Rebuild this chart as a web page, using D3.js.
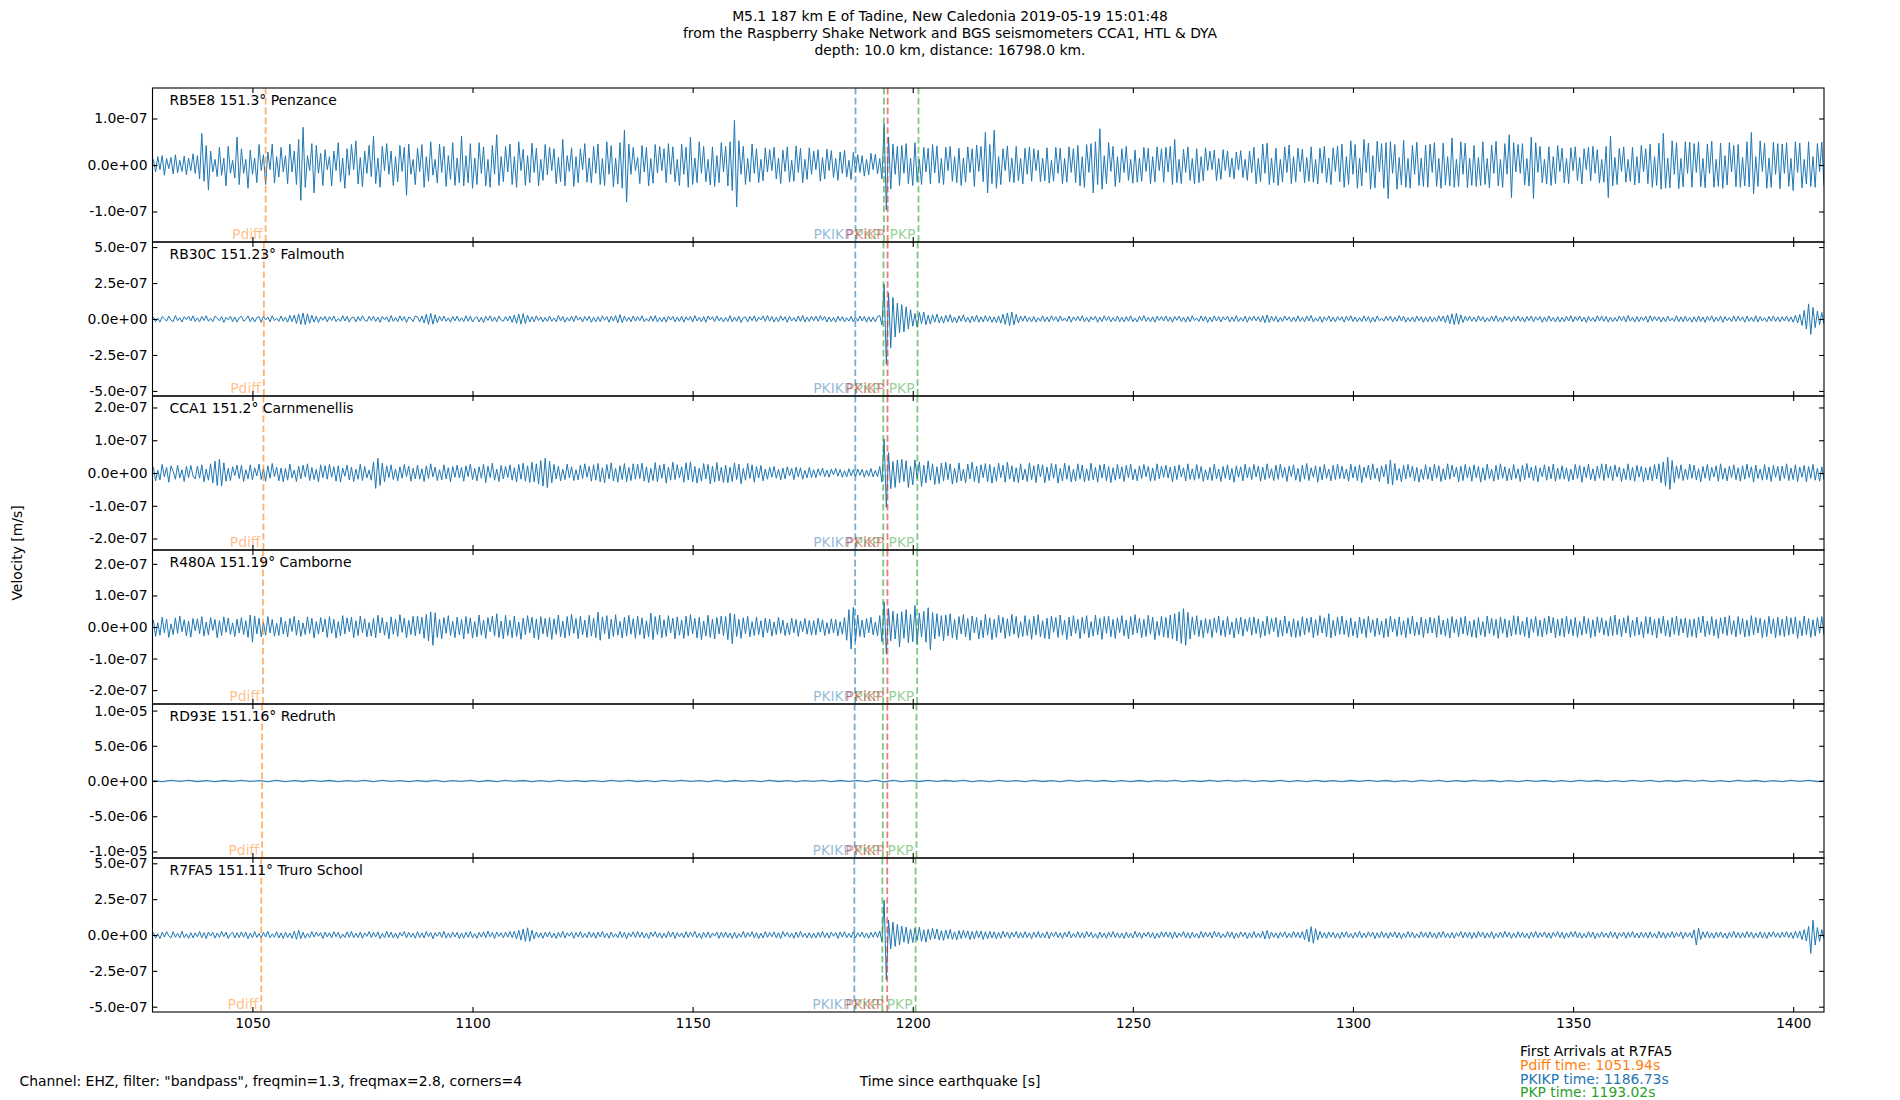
<!DOCTYPE html>
<html><head><meta charset="utf-8">
<script src="https://cdn.jsdelivr.net/npm/d3@7"></script>
<style>
body{margin:0;background:#fff}
svg{display:block}
text{font-family:"DejaVu Sans",sans-serif}
</style>
</head><body>
<svg id="chart" width="1900" height="1100"></svg>
<script>
// ---------------- DATA ----------------
const titleLines = [
  "M5.1 187 km E of Tadine, New Caledonia 2019-05-19 15:01:48",
  "from the Raspberry Shake Network and BGS seismometers CCA1, HTL & DYA",
  "depth: 10.0 km, distance: 16798.0 km."
];
const stationLabels = [
  "RB5E8 151.3° Penzance",
  "RB30C 151.23° Falmouth",
  "CCA1 151.2° Carnmenellis",
  "R480A 151.19° Camborne",
  "RD93E 151.16° Redruth",
  "R7FA5 151.11° Truro School"
];
const xDomain = [1027.3, 1407.0];
const xTicks = [1050, 1100, 1150, 1200, 1250, 1300, 1350, 1400];
const yLimits = [1.656e-7, 5.35e-7, 2.35e-7, 2.44e-7, 1.093e-5, 5.37e-7];
const yTicks = [
  [-1e-7, 0, 1e-7],
  [-5e-7, -2.5e-7, 0, 2.5e-7, 5e-7],
  [-2e-7, -1e-7, 0, 1e-7, 2e-7],
  [-2e-7, -1e-7, 0, 1e-7, 2e-7],
  [-1e-5, -5e-6, 0, 5e-6, 1e-5],
  [-5e-7, -2.5e-7, 0, 2.5e-7, 5e-7]
];
// trace start time (s) and step between read extrema (s); values in nm/s
const traceStart = 1027.5;
const traceSteps = [0.5, 0.5, 0.5, 0.5, 2.0, 0.5];

const tracePenzance = [
12,-15,18,-10,20,-22,14,-8,16,-19,22,-17,10,-14,19,-21,15,-12,24,-18,
20,-30,68,-35,42,-54,30,-15,12,-25,38,-22,15,-45,40,-18,10,-28,60,-42,
35,-18,12,-50,32,-20,15,-38,44,-12,22,-42,28,-10,45,-39,18,-26,38,-15,
20,-40,45,-15,30,-42,55,-76,81,-48,20,-12,46,-60,42,-18,25,-44,33,-10,
18,-45,30,-12,48,-36,15,-50,35,-22,44,-10,52,-41,16,-47,30,-18,42,-25,
62,-40,15,-48,40,-12,46,-20,30,-44,18,-36,42,-14,38,-65,45,-20,12,-42,
36,-14,44,-48,18,-35,50,-22,12,-39,45,-16,40,-46,20,-31,48,-44,15,-38,
62,-45,20,-38,46,-50,15,-42,48,-18,39,-45,12,-48,42,-20,65,-44,18,-36,
40,-15,45,-42,18,-48,50,-12,34,-44,20,-38,47,-16,36,-45,12,-33,44,-21,
38,-12,35,-40,16,-36,55,-45,20,-14,37,-46,18,-38,35,-10,46,-37,15,-39,
40,-18,45,-42,14,-44,50,-20,42,-47,15,-41,48,-50,75,-80,45,-20,38,-12,
16,-40,42,-15,38,-45,14,-39,44,-17,40,-12,35,-38,46,-20,39,-36,12,-44,
45,-20,38,-48,60,-42,15,-38,50,-18,40,-36,12,-43,39,-46,20,-38,48,-15,
40,-45,50,-55,96,-90,52,-20,40,-42,14,-36,45,-18,35,-38,12,-34,37,-15,
33,-12,38,-30,15,-40,32,-14,39,-37,10,-35,41,-16,36,-38,12,-31,37,-20,
30,-10,33,-35,16,-30,34,-12,31,-27,14,-33,28,-18,32,-26,10,-31,27,-15,
22,-16,20,-24,12,-21,25,-10,23,-19,14,-30,88,-97,60,-52,45,-20,40,-44,
42,-18,46,-40,15,-44,48,-36,12,-42,38,-15,36,-40,44,-17,41,-39,14,-42,
38,-12,40,-35,18,-38,36,-44,15,-37,39,-16,35,-46,43,-14,40,-36,70,-60,
44,-40,75,-50,18,-42,35,-12,41,-36,15,-38,40,-34,14,-41,36,-20,39,-35,
35,-12,32,-36,15,-34,37,-39,10,-35,38,-18,36,-40,14,-37,39,-16,35,-38,
42,-45,18,-48,44,-16,46,-60,50,-42,78,-52,20,-40,48,-14,40,-46,18,-38,
35,-16,40,-33,12,-39,32,-37,15,-35,38,-14,36,-40,18,-36,39,-12,35,-37,
38,-15,40,-42,55,-38,12,-40,34,-16,39,-33,14,-41,35,-38,18,-34,37,-12,
30,-10,32,-34,14,-31,33,-12,30,-26,15,-30,28,-11,31,-27,12,-33,30,-16,
38,-40,14,-36,45,-18,47,-42,15,-38,36,-44,12,-37,39,-16,43,-40,18,-36,
36,-14,34,-38,16,-35,39,-37,12,-41,36,-18,40,-38,15,-42,37,-14,41,-36,
45,-48,18,-42,52,-20,44,-50,14,-45,55,-16,47,-52,20,-49,51,-15,46,-50,
48,-72,50,-18,44,-52,16,-43,53,-48,14,-50,42,-20,49,-44,15,-46,43,-48,
45,-16,48,-46,14,-50,47,-43,18,-45,58,-48,12,-46,50,-20,47,-49,15,-44,
42,-46,16,-44,50,-42,14,-49,43,-18,51,-45,12,-48,46,-20,65,-70,48,-15,
44,-18,46,-43,14,-45,60,-72,48,-16,40,-38,12,-41,39,-44,18,-40,42,-14,
36,-38,14,-40,37,-12,39,-33,16,-41,35,-10,38,-34,40,-18,33,-39,12,-37,
40,-70,62,-45,16,-42,36,-14,39,-37,12,-35,38,-43,18,-39,42,-15,35,-40,
45,-48,18,-44,47,-52,68,-50,15,-49,52,-20,48,-51,14,-47,50,-18,49,-48,
46,-16,50,-47,14,-49,45,-18,51,-48,12,-46,47,-50,20,-43,48,-15,42,-47,
44,-48,16,-45,50,-47,70,-62,18,-46,52,-14,47,-50,15,-48,49,-20,46,-51,
45,-18,48,-46,14,-55,50,-16,47,-49,12,-41,50,-46,18,-48,46,-14,49,-45
];

const traceFalmouth = [
14,-19,6,-22,17,3,-15,20,-8,-18,24,-12,9,-21,16,-5,19,-14,22,-17,
8,-20,18,-11,23,-16,5,-19,21,7,-13,17,-24,12,-6,19,-18,14,-22,10,
19,-15,-4,22,-18,13,-21,9,16,-23,20,-7,14,-19,23,-12,6,-17,21,-15,
12,-22,25,-18,28,-32,35,-38,42,-40,36,-30,26,-22,19,-24,15,-9,18,-20,
17,-11,21,-19,4,-16,23,-14,18,-22,9,14,-20,16,-13,22,-8,-17,19,-12,
20,-17,13,-23,18,-6,15,-21,24,-16,10,-19,22,-12,17,-24,14,5,-18,21,
15,-20,22,-28,34,-38,40,-36,30,-25,19,-14,21,-17,8,-22,18,-13,20,-16,
9,-18,23,-15,19,-21,6,16,-20,13,-24,18,-10,22,-17,14,-19,21,-7,-15,
18,-14,20,-24,28,-31,34,-36,38,-32,26,-21,16,-19,22,-12,15,-20,11,-17,
21,-16,7,-19,24,-13,18,-22,10,-15,20,-18,23,-9,14,-21,17,-11,19,-23,
13,-20,16,-18,22,-9,17,-23,19,-14,24,-27,30,-25,20,-16,12,-19,21,-15,
16,-12,22,-19,5,-17,20,-15,23,-21,11,-18,14,-22,19,-8,17,-20,13,-16,
20,-22,15,-9,18,-21,24,-14,12,-19,17,-23,21,-6,16,-18,22,-13,10,-20,
11,-17,23,-20,14,-16,19,-24,8,15,-21,18,-12,22,-19,13,-7,20,-16,24,
-15,18,-21,12,-19,22,-10,16,-23,20,-14,9,-18,21,-16,24,-20,13,-17,19,
-12,20,-16,23,-9,17,-21,14,-18,11,-22,19,-13,16,-20,8,-15,18,-19,12,
-16,21,-14,18,-22,15,-19,13,-20,17,24,-42,241,-315,180,-200,150,-125,110,-95,
100,-90,85,-70,65,-50,38,-58,45,-32,48,-40,26,-36,30,-22,34,-27,18,-29,
26,-19,30,-24,14,-27,22,-16,29,-21,12,-25,20,-18,27,-23,15,-20,24,-17,
19,-23,15,-25,21,-29,33,-37,42,-46,48,-40,32,-27,20,-15,22,-18,13,-20,
17,-21,9,-16,22,-18,14,-20,23,-11,16,-19,21,-14,7,-17,20,-22,15,-12,
18,-14,23,-19,12,-21,16,-8,19,-23,14,-17,22,-12,18,-20,9,-16,21,-19,
13,-20,17,-15,22,-18,6,-21,19,-13,24,-16,11,-19,15,-22,20,-10,17,-14,
21,-16,14,-23,18,-9,20,-17,13,-22,16,-19,23,-11,8,-18,21,-15,19,-24,
12,-18,22,-14,17,-20,15,-7,19,-21,13,-16,24,-19,10,-15,20,-23,16,-12,
19,-13,16,-21,23,-26,28,-24,20,-15,18,-22,12,-17,21,-9,15,-20,14,-18,
22,-17,11,-19,20,-14,24,-21,8,-16,18,-23,15,-12,21,-18,13,-20,17,-10,
15,-22,19,-12,23,-17,14,-20,10,-18,22,-15,17,-24,12,-19,21,-13,6,-16,
18,-11,21,-20,13,-16,24,-14,19,-22,9,-17,15,-21,20,-12,16,-23,14,-19,
17,-20,12,-18,23,-15,20,-25,28,-33,36,-39,40,-37,29,-24,18,-14,21,-16,
14,-19,22,-13,16,-21,8,-17,20,-15,23,-18,12,-22,19,-10,15,-20,17,-14,
20,-16,13,-22,18,-12,21,-19,15,-9,17,-23,14,-18,22,-15,11,-20,16,-21,
11,-18,19,-14,23,-20,16,-12,21,-17,13,-24,18,-15,9,-19,22,-13,20,-16,
17,-22,14,-19,10,-16,21,-13,18,-20,24,-15,12,-21,17,-18,15,-11,19,-23,
22,-15,18,-12,16,-21,13,-19,20,-14,7,-17,23,-20,15,-18,19,-16,12,-22,
16,-20,21,-17,14,-23,18,-11,22,-19,13,-15,20,-24,17,-12,10,-18,21,-16,
19,-13,15,-22,20,-16,12,-18,23,-21,17,-14,9,-20,18,-15,22,-17,14,-19,
17,-14,20,-18,15,-22,26,-28,32,-45,60,-70,105,-107,80,-60,55,-40,45,-35
];

const traceCarnmenellis = [
18,-24,8,-21,26,-12,17,-28,22,5,-19,24,-15,10,-26,20,-14,23,-9,-18,
21,-16,25,-27,12,-22,28,-30,36,-38,42,-40,31,-25,14,-23,19,-8,24,-17,
23,-26,10,-18,25,-21,16,-9,27,-20,13,-25,22,-16,29,-11,18,-24,15,-27,
14,-22,27,-15,9,-26,21,-18,24,-12,28,-23,17,-20,11,-27,25,-14,22,-19,
26,-13,19,-25,22,-28,15,-10,24,-21,18,-26,12,-19,27,-23,20,-15,9,-22,
34,-47,45,-38,30,-27,22,-14,25,-20,12,-24,19,-16,26,-11,21,-25,14,-18,
24,-19,13,-26,22,-17,28,-12,18,-23,10,-21,25,-18,16,-27,20,-13,24,-15,
17,-25,22,-11,27,-20,14,-24,19,-16,26,-29,21,-14,30,-22,12,-26,23,-18,
20,-14,25,-22,16,-28,26,-19,30,-25,22,-29,33,-27,28,-34,38,-40,45,-45,
36,-30,26,-18,21,-24,12,-20,27,-15,19,-23,10,-21,24,-17,28,-13,20,-25,
25,-22,29,-27,16,-30,26,-18,31,-24,14,-28,22,-20,29,-26,17,-23,28,-19,
27,-17,30,-25,19,-29,14,-23,32,-27,24,-16,28,-31,18,-22,33,-20,25,-15,
19,-28,31,-21,34,-27,20,-31,15,-25,29,-18,26,-33,21,-27,32,-24,17,-29,
24,-30,18,-26,31,-20,27,-33,14,-22,29,-17,25,-28,20,-15,23,-24,12,-19,
17,-13,20,-16,11,-21,15,-18,19,-9,14,-20,18,-12,16,-19,8,-15,17,-14,
10,-14,13,-8,15,-11,9,-13,12,-6,14,-10,11,-13,7,-12,13,-9,10,-11,
12,-7,11,-13,9,-10,14,-12,8,-11,20,-28,104,-105,62,-48,35,-44,40,-30,
42,-26,38,-44,20,-36,40,-18,34,-41,24,-30,37,-22,28,-35,19,-32,30,-24,
33,-20,28,-34,15,-29,31,-24,12,-30,27,-18,33,-26,21,-31,25,-14,29,-27,
26,-31,18,-25,30,-14,24,-28,33,-19,22,-27,16,-30,28,-21,12,-26,31,-20,
22,-29,27,-12,25,-30,18,-23,29,-16,26,-31,14,-24,30,-19,23,-27,11,-25,
28,-19,24,-27,13,-23,30,-21,17,-28,25,-15,27,-24,20,-29,16,-22,26,-18,
19,-26,23,-14,27,-21,12,-24,22,-17,26,-11,20,-25,15,-23,28,-18,21,-13,
24,-15,18,-27,21,-20,25,-12,16,-24,28,-19,13,-22,26,-17,20,-25,10,-21,
17,-23,27,-18,12,-26,20,-16,25,-21,14,-28,22,-13,19,-24,27,-15,18,-20,
26,-12,21,-25,18,-20,28,-16,13,-23,24,-19,27,-14,17,-26,21,-11,25,-22,
14,-27,24,-19,29,-23,16,-13,22,-28,19,-21,26,-16,12,-24,23,-20,27,-17,
21,-18,12,-25,27,-15,20,-23,25,-29,18,-14,24,-21,28,-17,15,-26,22,-12,
26,-33,40,-36,29,-22,14,-27,23,-18,26,-13,21,-24,17,-28,12,-20,25,-19,
18,-24,27,-16,22,-26,13,-21,28,-19,24,-12,17,-27,21,-23,26,-15,19,-25,
25,-14,20,-28,16,-22,27,-18,12,-25,23,-20,28,-16,19,-24,14,-21,26,-17,
13,-26,24,-20,29,-15,18,-23,22,-27,16,-12,25,-22,20,-18,27,-25,15,-19,
22,-19,16,-25,12,-21,26,-17,23,-28,19,-14,27,-20,13,-24,21,-16,28,-23,
27,-15,21,-23,25,-12,18,-26,14,-20,28,-22,17,-25,23,-13,20,-27,16,-21,
19,-24,26,-18,28,-30,34,-40,48,-50,38,-29,22,-17,25,-23,12,-20,27,-16,
24,-21,13,-27,20,-16,26,-23,17,-12,22,-25,28,-19,15,-24,21,-14,25,-20,
16,-25,22,-19,27,-14,19,-28,24,-17,12,-22,26,-20,18,-26,23,-13,20,-24,
21,-17,28,-23,15,-20,25,-26,18,-13,23,-27,20,-16,26,-22,14,-25,19,-21
];

const traceCamborne = [
22,-30,14,-26,31,-18,25,-33,10,-24,29,-20,35,-15,23,-28,19,-32,27,-12,
26,-21,33,-29,16,-25,30,-11,24,-34,20,-27,32,-17,28,-23,13,-30,25,-19,
30,-24,20,-33,38,-48,35,-22,28,-31,15,-26,33,-19,24,-29,12,-27,31,-22,
18,-31,27,-14,34,-26,22,-30,13,-24,32,-20,28,-35,17,-23,30,-16,25,-33,
33,-20,24,-35,17,-28,36,-22,29,-15,31,-34,20,-27,35,-18,26,-31,14,-29,
27,-34,37,-19,30,-26,16,-38,32,-23,25,-30,39,-17,28,-35,21,-24,34,-28,
35,-22,31,-36,40,-44,48,-58,45,-33,24,-37,30,-20,36,-27,18,-34,31,-25,
24,-38,33,-21,29,-35,17,-31,38,-26,22,-36,30,-15,34,-29,42,-33,19,-37,
37,-27,21,-34,35,-30,16,-39,28,-24,36,-18,31,-35,25,-40,33,-22,27,-31,
30,-39,26,-23,38,-31,19,-35,33,-28,40,-20,27,-37,34,-25,22,-33,37,-29,
28,-34,47,-42,32,-21,36,-38,25,-30,39,-26,18,-35,31,-29,37,-23,26,-36,
35,-25,29,-37,20,-31,44,-40,33,-24,38,-34,23,-30,36,-19,28,-38,32,-26,
22,-36,34,-28,39,-21,27,-35,31,-40,19,-29,37,-33,25,-38,30,-22,35,-27,
33,-40,44,-53,41,-30,24,-36,29,-22,34,-31,17,-27,32,-24,20,-33,28,-19,
25,-29,16,-24,31,-20,22,-27,13,-25,28,-18,24,-30,19,-15,27,-23,21,-26,
20,-25,28,-16,23,-27,14,-22,26,-19,24,-28,17,-23,30,-42,55,-70,62,-45,
38,-30,22,-33,27,-19,31,-25,16,-28,36,-46,80,-85,58,-44,50,-38,42,-63,
48,-36,55,-50,40,-47,68,-55,44,-32,50,-48,61,-72,46,-38,42,-30,36,-44,
38,-28,42,-35,24,-40,33,-22,39,-31,27,-42,35,-19,30,-38,22,-34,40,-26,
29,-40,24,-33,37,-18,31,-36,26,-29,40,-23,33,-35,17,-30,36,-27,24,-39,
34,-25,39,-31,20,-36,28,-38,35,-17,30,-33,38,-26,22,-40,31,-29,36,-21,
25,-37,31,-22,36,-34,17,-29,38,-25,27,-39,33,-20,35,-31,24,-36,29,-18,
36,-28,22,-38,33,-25,39,-19,28,-34,24,-30,37,-23,31,-40,18,-27,34,-32,
30,-35,38,-37,42,-44,48,-52,58,-58,46,-38,32,-25,36,-30,22,-34,27,-20,
24,-33,29,-18,35,-27,21,-31,33,-24,16,-35,28,-22,31,-29,25,-14,30,-26,
32,-21,26,-34,19,-28,34,-23,27,-15,30,-32,22,-29,35,-20,18,-31,26,-33,
20,-30,33,-25,28,-17,31,-34,24,-27,36,-19,29,-31,42,-35,21,-28,32,-23,
35,-24,22,-32,29,-28,17,-35,31,-21,26,-33,34,-18,23,-30,28,-25,19,-34,
27,-31,34,-16,25,-30,32,-26,20,-34,29,-22,35,-28,16,-25,31,-33,24,-20,
31,-19,28,-33,36,-24,22,-29,27,-35,33,-18,25,-31,30,-22,34,-27,19,-32,
23,-34,30,-26,17,-31,35,-21,28,-27,24,-36,32,-20,26,-33,21,-29,36,-24,
34,-25,19,-30,31,-35,26,-17,33,-29,22,-32,28,-24,35,-19,30,-34,25,-28,
28,-32,35,-22,24,-28,30,-33,18,-26,34,-21,27,-35,23,-30,32,-18,29,-25,
20,-29,33,-27,38,-24,25,-31,29,-19,36,-33,22,-28,31,-25,17,-34,33,-22,
32,-26,24,-35,28,-20,34,-29,21,-32,30,-23,35,-27,26,-19,29,-33,24,-30,
26,-34,31,-18,35,-30,19,-25,33,-28,24,-36,29,-21,32,-27,36,-23,20,-31,
33,-23,27,-32,22,-29,36,-25,30,-19,28,-34,23,-30,34,-22,26,-35,31,-27,
25,-31,34,-26,29,-22,32,-36,20,-28,35,-24,27,-33,23,-29,30,-20,33,-26
];

const traceRedruth = [
60,-80,75,-55,90,-70,65,-85,70,-60,
85,-65,55,-90,80,-75,60,-70,95,-65,
70,-85,65,-60,75,-95,80,-55,65,-80,
55,-70,90,-80,60,-65,85,-75,70,-90,
80,-60,70,-85,55,-75,90,-65,60,-70,
65,-90,80,-55,75,-70,60,-85,95,-60,
75,-65,60,-80,85,-90,70,-60,55,-75,
90,-70,65,-75,60,-55,80,-95,70,-65,
60,-85,110,-130,90,-80,65,-70,85,-55,
70,-60,85,-75,65,-90,75,-65,60,-80,
80,-70,60,-85,75,-65,90,-55,70,-75,
55,-80,70,-90,65,-60,85,-75,60,-70,
85,-65,75,-55,90,-80,60,-70,75,-85,
65,-75,80,-70,55,-95,70,-60,85,-65,
70,-90,60,-75,85,-65,75,-80,55,-70,
90,-60,70,-85,65,-75,80,-55,70,-90,
60,-75,85,-65,70,-80,55,-90,75,-60,
75,-85,65,-70,90,-60,80,-75,60,-85,
85,-55,70,-80,60,-90,75,-65,85,-70,
65,-80
];

const traceTruro = [
18,-22,9,-25,20,-14,24,-6,-19,23,-16,12,-21,26,-18,8,-23,17,-20,15,
-13,24,-19,16,-25,21,-8,18,-22,14,-17,25,-12,20,-24,7,19,-21,16,-18,
22,-15,19,-26,13,-20,24,-17,10,-22,18,-14,25,-19,8,-16,23,-21,15,-24,
20,-17,14,-23,26,-30,34,-25,19,-22,12,-18,24,-15,21,-9,17,-25,20,-13,
16,-21,23,-12,19,-24,7,-18,22,-16,25,-20,13,-17,21,-23,15,-10,24,-19,
18,-14,22,-25,11,-19,26,-16,20,-21,14,-23,17,-8,24,-20,19,-15,12,-22,
23,-18,15,-21,24,-12,19,-26,16,-9,21,-17,25,-22,13,-19,20,-14,18,-24,
14,-22,19,-16,25,-20,10,-23,18,-15,22,-19,27,-13,17,-24,21,-11,16,-20,
20,-15,24,-18,26,-28,33,-36,42,-45,50,-44,34,-27,21,-18,16,-23,19,-14,
22,-19,12,-24,18,-16,25,-21,15,-9,20,-23,17,-14,24,-20,11,-18,23,-16,
17,-23,20,-14,25,-19,13,-22,21,-16,9,-20,24,-17,19,-25,15,-12,22,-18,
24,-16,19,-21,14,-25,20,-10,23,-18,16,-22,12,-19,25,-15,21,-24,17,-13,
15,-20,23,-17,21,-13,26,-19,11,-24,18,-16,22,-21,14,-8,20,-23,19,-17,
21,-18,14,-24,19,-22,9,-15,25,-20,17,-12,23,-19,16,-25,13,-21,24,-16,
18,-13,22,-20,16,-25,24,-11,19,-17,14,-23,21,-18,26,-15,12,-20,17,-22,
13,-21,19,-16,24,-18,15,-22,20,-9,17,-24,21,-14,23,-19,11,-17,22,-20,
16,-12,21,-19,14,-23,18,-15,22,-17,28,-45,243,-313,104,-97,90,-80,75,-70,
62,-50,55,-60,42,-52,48,-38,55,-44,36,-50,40,-32,46,-28,42,-35,30,-38,
35,-26,38,-30,22,-34,31,-25,33,-20,29,-32,24,-28,30,-19,27,-31,23,-26,
25,-20,22,-27,18,-23,26,-16,21,-24,19,-14,25,-22,17,-20,23,-18,15,-25,
20,-16,24,-21,13,-19,23,-25,17,-12,22,-18,15,-24,19,-14,26,-20,11,-17,
23,-19,16,-22,25,-13,18,-20,9,-24,21,-17,14,-23,20,-15,24,-18,16,-21,
14,-24,20,-18,12,-21,26,-16,19,-23,15,-10,22,-19,17,-25,13,-20,23,-15,
21,-15,18,-25,22,-19,14,-12,24,-20,16,-23,19,-17,11,-22,25,-18,20,-14,
17,-22,25,-14,19,-21,8,-18,23,-16,20,-25,14,-19,22,-11,18,-24,15,-20,
24,-18,13,-20,26,-28,32,-26,21,-17,15,-23,19,-14,22,-20,12,-18,25,-16,
18,-21,24,-32,40,-48,58,-58,44,-34,25,-20,17,-23,21,-15,19,-22,14,-24,
20,-15,23,-19,11,-22,18,-16,25,-21,14,-18,22,-12,19,-25,16,-20,24,-17,
15,-23,19,-14,22,-20,17,-25,12,-18,24,-16,20,-22,9,-19,23,-15,18,-21,
22,-18,14,-24,20,-16,25,-19,13,-21,18,-23,16,-11,24,-20,19,-17,21,-25,
17,-20,24,-13,19,-22,15,-18,23,-25,11,-16,21,-19,26,-14,18,-23,13,-20,
23,-16,18,-21,12,-24,20,-17,25,-19,16,-14,22,-20,15,-23,19,-12,24,-18,
19,-24,15,-18,22,-13,25,-20,17,-22,10,-19,23,-16,20,-25,14,-17,21,-15,
14,-20,23,-17,19,-25,16,-12,21,-23,18,-15,24,-19,13,-21,20,-18,17,-22,
21,-17,12,-22,25,-19,18,-24,15,-16,23,-20,17,-13,22,-25,19,-15,16,-21,
35,-70,48,-30,22,-18,24,-21,15,-23,19,-16,22,-20,13,-24,18,-17,25,-19,
18,-22,16,-19,24,-15,20,-23,14,-18,22,-21,17,-25,19,-12,23,-16,15,-20,
20,-15,23,-18,17,-24,26,-20,28,-32,38,-42,60,-128,104,-70,52,-45,38,-30
];

// phase arrival times per station (s)
const phaseNames = ["Pdiff", "PKIKP", "PKiKP", "PKP", "PKP"];
const phaseColors = ["#ff7f0e", "#1f77b4", "#d62728", "#2ca02c", "#2ca02c"];
const arrivalPdiff = [1053.0, 1052.6, 1052.5, 1052.4, 1052.2, 1052.0];
const arrivalPKIKP = [1187.0, 1186.95, 1186.95, 1186.9, 1186.8, 1186.73];
const arrivalPKiKP = [1194.3, 1194.28, 1194.26, 1194.25, 1194.23, 1194.2];
const arrivalPKP = [1193.45, 1193.35, 1193.3, 1193.28, 1193.2, 1193.1];
const arrivalPKP2 = [1201.3, 1201.1, 1201.05, 1201.0, 1200.85, 1200.65];

const footerLeft = 'Channel: EHZ, filter: "bandpass", freqmin=1.3, freqmax=2.8, corners=4';
const xAxisLabel = "Time since earthquake [s]";
const yAxisLabel = "Velocity [m/s]";
const firstArrivalLines = [
  ["First Arrivals at R7FA5", "#000000"],
  ["Pdiff time: 1051.94s", "#ff7f0e"],
  ["PKIKP time: 1186.73s", "#1f77b4"],
  ["PKP time: 1193.02s", "#2ca02c"]
];

// ---------------- DRAWING ----------------
const traces = [tracePenzance, traceFalmouth, traceCarnmenellis, traceCamborne, traceRedruth, traceTruro];
const arrivals = [arrivalPdiff, arrivalPKIKP, arrivalPKiKP, arrivalPKP, arrivalPKP2];

const W = 1900, H = 1100;
const plotL = 152.5, plotR = 1824, plotT = 88, plotB = 1012;
const nP = traces.length, pH = (plotB - plotT) / nP;
const FS = 13.9;
const tickLen = 4.9;

const svg = d3.select("#chart");
svg.append("rect").attr("width", W).attr("height", H).attr("fill", "#fff");

const x = d3.scaleLinear().domain(xDomain).range([plotL, plotR]);

function fmtExp(v) {
  let s = (v === 0 ? 0 : v).toExponential(1);
  return s.replace(/e([+-])(\d)$/, "e$10$2");
}

const defs = svg.append("defs");

traces.forEach((vals, i) => {
  const pTop = plotT + i * pH, pBot = pTop + pH;
  const y = d3.scaleLinear().domain([-yLimits[i], yLimits[i]]).range([pBot, pTop]);
  const clipId = "clip" + i;
  defs.append("clipPath").attr("id", clipId)
    .append("rect").attr("x", plotL).attr("y", pTop).attr("width", plotR - plotL).attr("height", pH);
  const g = svg.append("g");
  const step = traceSteps[i];
  const line = d3.line()
    .x((d, j) => x(traceStart + j * step))
    .y(d => y(d * 1e-9));
  g.append("path").datum(vals)
    .attr("d", line)
    .attr("fill", "none")
    .attr("stroke", "#1f77b4")
    .attr("stroke-width", i === 4 ? 1.3 : 1.0)
    .attr("stroke-opacity", i === 4 ? 0.9 : 1)
    .attr("stroke-linejoin", "round")
    .attr("clip-path", `url(#${clipId})`);

  // arrival lines
  [0, 1, 2, 3, 4].forEach(k => {
    const t = arrivals[k][i];
    g.append("line")
      .attr("x1", x(t)).attr("x2", x(t))
      .attr("y1", pTop).attr("y2", pBot)
      .attr("stroke", phaseColors[k]).attr("stroke-opacity", 0.6)
      .attr("stroke-width", 1.8)
      .attr("stroke-dasharray", "6.6,3.2");
  });
  [0, 1, 3, 2, 4].forEach(k => {
    const t = arrivals[k][i];
    g.append("text")
      .attr("x", x(t) - 3).attr("y", pBot - 3.5)
      .attr("text-anchor", "end")
      .attr("font-size", FS)
      .attr("fill", phaseColors[k]).attr("fill-opacity", 0.5)
      .text(phaseNames[k]);
  });

  // axes ticks (inward on all sides)
  const ab = g.append("g").attr("transform", `translate(0,${pBot})`)
    .call(d3.axisBottom(x).tickValues(xTicks).tickSizeInner(-tickLen).tickSizeOuter(0).tickPadding(6.1)
      .tickFormat(i === nP - 1 ? d3.format("d") : () => ""));
  const at = g.append("g").attr("transform", `translate(0,${pTop})`)
    .call(d3.axisTop(x).tickValues(xTicks).tickSizeInner(-tickLen).tickSizeOuter(0).tickFormat(() => ""));
  const al = g.append("g").attr("transform", `translate(${plotL},0)`)
    .call(d3.axisLeft(y).tickValues(yTicks[i]).tickSizeInner(-tickLen).tickSizeOuter(0).tickPadding(5).tickFormat(fmtExp));
  const ar = g.append("g").attr("transform", `translate(${plotR},0)`)
    .call(d3.axisRight(y).tickValues(yTicks[i]).tickSizeInner(-tickLen).tickSizeOuter(0).tickFormat(() => ""));
  [ab, at, al, ar].forEach(a => {
    a.select(".domain").remove();
    a.attr("font-family", '"DejaVu Sans", sans-serif').attr("font-size", FS);
    a.selectAll(".tick line").attr("stroke", "#000").attr("stroke-width", 1.1);
    a.selectAll(".tick text").attr("fill", "#000");
  });

  // frame
  g.append("rect").attr("x", plotL).attr("y", pTop).attr("width", plotR - plotL).attr("height", pH)
    .attr("fill", "none").attr("stroke", "#000").attr("stroke-width", 1.1);

  // station label
  g.append("text").attr("x", 169.5).attr("y", pTop + 17)
    .attr("font-size", FS).attr("fill", "#000").text(stationLabels[i]);
});

// title
titleLines.forEach((s, k) => {
  svg.append("text").attr("x", 950).attr("y", 20.7 + k * 17.2)
    .attr("text-anchor", "middle").attr("font-size", FS).attr("fill", "#000").text(s);
});

// y axis label
svg.append("text").attr("transform", "translate(22,553) rotate(-90)")
  .attr("text-anchor", "middle").attr("font-size", FS).attr("fill", "#000").text(yAxisLabel);

// footers
svg.append("text").attr("x", 19.5).attr("y", 1086).attr("font-size", FS).attr("fill", "#000").text(footerLeft);
svg.append("text").attr("x", 950).attr("y", 1086).attr("text-anchor", "middle")
  .attr("font-size", FS).attr("fill", "#000").text(xAxisLabel);
firstArrivalLines.forEach((d, k) => {
  svg.append("text").attr("x", 1520).attr("y", 1056 + k * 13.8)
    .attr("font-size", FS).attr("fill", d[1]).text(d[0]);
});
</script>
</body></html>
